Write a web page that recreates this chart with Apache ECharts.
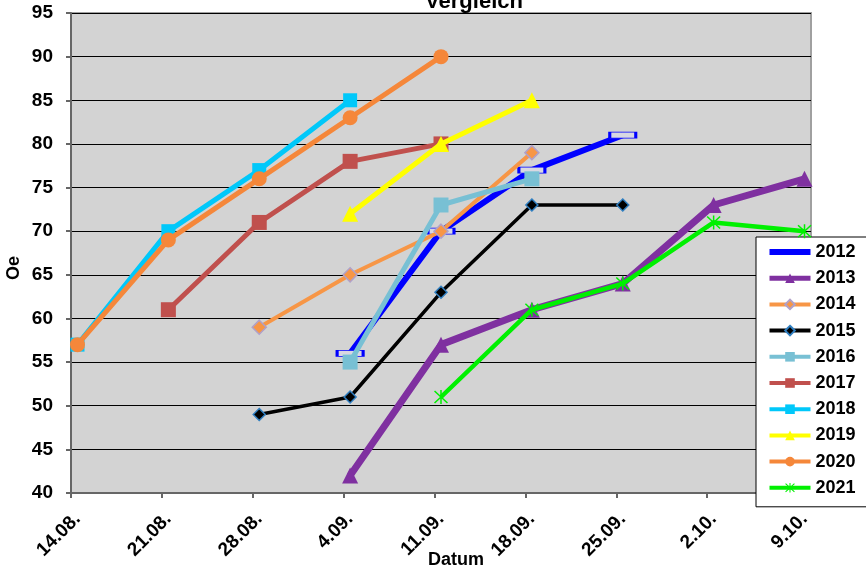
<!DOCTYPE html>
<html>
<head>
<meta charset="utf-8">
<script src="https://cdn.jsdelivr.net/npm/echarts@6/dist/echarts.min.js"></script>
<style>
html, body { margin: 0; padding: 0; background: #ffffff; }
#chart { width: 866px; height: 572px; }
</style>
</head>
<body>
<div id="chart"></div>
<script>
// Weekly reading dates (tick labels), one column per week
const dates = ['14.08.', '21.08.', '28.08.', '4.09.', '11.09.', '18.09.', '25.09.', '2.10.', '9.10.'];

// Oechsle readings per year, aligned to the weekly dates (null = no reading)
const v2012 = [null, null, null, 56, 70, 77, 81, null, null];
const v2013 = [null, null, null, 42, 57, 61, 64, 73, 76];
const v2014 = [null, null, 59, 65, 70, 79, null, null, null];
const v2015 = [null, null, 49, 51, 63, 73, 73, null, null];
const v2016 = [null, null, null, 55, 73, 76, null, null, null];
const v2017 = [null, 61, 71, 78, 80, null, null, null, null];
const v2018 = [57, 70, 77, 85, null, null, null, null, null];
const v2019 = [null, null, null, 72, 80, 85, null, null, null];
const v2020 = [57, 69, 76, 83, 90, null, null, null, null];
const v2021 = [null, null, null, null, 51, 61, 64, 71, 70];

const years = ['2012', '2013', '2014', '2015', '2016', '2017', '2018', '2019', '2020', '2021'];
const values = [v2012, v2013, v2014, v2015, v2016, v2017, v2018, v2019, v2020, v2021];

// x axis counts days from 14.08.; each reading sits in the middle of its day
const DAYS_PER_WEEK = 7;
const AXIS_DAYS = (dates.length - 1) * DAYS_PER_WEEK + 1;
function toPoints(arr) {
  const pts = [];
  arr.forEach((v, i) => { if (v !== null) pts.push([i * DAYS_PER_WEEK + 0.5, v]); });
  return pts;
}

const FONT = 'Arial, "Liberation Sans", sans-serif';
const ASTERISK = 'path://M9,0 L11,0 L11,20 L9,20 Z M0.7,2.1 L2.1,0.7 L19.3,17.9 L17.9,19.3 Z M17.9,0.7 L19.3,2.1 L2.1,19.3 L0.7,17.9 Z';

// Plot box; the date labels sit on a twin box moved half a day to the right
const PLOT = { left: 71, right: 55, top: 13, bottom: 79 };
const PLOT_W = 866 - PLOT.left - PLOT.right;
const HALF_DAY = PLOT_W / AXIS_DAYS / 2;

// Appearance of each year's line and marker
const looks = {
  '2012': { color: '#0000FF', width: 6,   symbol: 'rect',     size: [26, 6], fill: '#D8D8E2', border: '#0000FF', bw: 1.5 },
  '2013': { color: '#7F30A0', width: 7,   symbol: 'triangle', size: 16 },
  '2014': { color: '#F79646', width: 4,   symbol: 'diamond',  size: 14, border: '#B0A0C8', bw: 1.5 },
  '2015': { color: '#000000', width: 3.5, symbol: 'diamond',  size: 12, border: '#2F7EC0', bw: 1.5 },
  '2016': { color: '#78C0D4', width: 5,   symbol: 'rect',     size: 15 },
  '2017': { color: '#C0504D', width: 5,   symbol: 'rect',     size: 15 },
  '2018': { color: '#00C8FA', width: 5,   symbol: 'rect',     size: 14 },
  '2019': { color: '#FFFF00', width: 5,   symbol: 'triangle', size: 16 },
  '2020': { color: '#F5873A', width: 5,   symbol: 'circle',   size: 15 },
  '2021': { color: '#00F000', width: 4.5, symbol: ASTERISK,   size: 14 }
};

const series = years.map((y, k) => {
  const s = looks[y];
  return {
    name: y,
    type: 'line',
    xAxisIndex: 0,
    yAxisIndex: 0,
    data: toPoints(values[k]),
    symbol: s.symbol,
    symbolSize: s.size,
    showAllSymbol: true,
    animation: false,
    z: 2 + k,
    lineStyle: { color: s.color, width: s.width },
    itemStyle: {
      color: s.fill || s.color,
      borderColor: s.border || s.color,
      borderWidth: s.bw || 0,
      opacity: 1
    },
    emphasis: { disabled: true }
  };
});

// Legend entries: 2012 is shown as a plain thick line
const legendData = years.map((y) => {
  if (y === '2012') {
    return {
      name: y,
      icon: 'path://M0,0 L41,0 L41,6 L0,6 Z',
      itemStyle: { color: looks[y].color, borderWidth: 0 }
    };
  }
  if (y === '2013') {
    return { name: y, lineStyle: { width: 5 } };
  }
  return { name: y };
});

const labelStyle = {
  color: '#000000',
  fontFamily: FONT,
  fontWeight: 'bold'
};

const chart = echarts.init(document.getElementById('chart'), null, { renderer: 'canvas' });
chart.setOption({
  backgroundColor: '#ffffff',
  animation: false,
  grid: [
    {
      left: PLOT.left, right: PLOT.right, top: PLOT.top, bottom: PLOT.bottom,
      show: true,
      backgroundColor: '#D3D3D3',
      borderColor: '#A0A0A0',
      borderWidth: 2
    },
    {
      left: PLOT.left + HALF_DAY, right: PLOT.right - HALF_DAY, top: PLOT.top, bottom: PLOT.bottom,
      show: false
    }
  ],
  xAxis: [
    {
      // day axis: line and weekly tick marks
      gridIndex: 0,
      type: 'value',
      min: 0,
      max: AXIS_DAYS,
      interval: DAYS_PER_WEEK,
      axisLine: { show: true, lineStyle: { color: '#666666', width: 2 } },
      axisTick: { show: true, length: 5, lineStyle: { color: '#666666', width: 2 } },
      splitLine: { show: false },
      axisLabel: { show: false }
    },
    {
      // date labels, centred on their day
      gridIndex: 1,
      type: 'value',
      min: 0,
      max: AXIS_DAYS,
      interval: DAYS_PER_WEEK,
      axisLine: { show: false },
      axisTick: { show: false },
      splitLine: { show: false },
      axisLabel: Object.assign({
        rotate: 45,
        margin: 23,
        fontSize: 19,
        showMaxLabel: false,
        formatter: (v) => (v % DAYS_PER_WEEK === 0 ? (dates[v / DAYS_PER_WEEK] || '') : '')
      }, labelStyle)
    }
  ],
  yAxis: [
    {
      gridIndex: 0,
      type: 'value',
      min: 40,
      max: 95,
      interval: 5,
      axisLine: { show: true, lineStyle: { color: '#666666', width: 2 } },
      axisTick: { show: true, length: 5, lineStyle: { color: '#666666', width: 2 } },
      splitLine: { show: true, lineStyle: { color: '#000000', width: 1 } },
      axisLabel: Object.assign({ margin: 18, fontSize: 19 }, labelStyle)
    },
    {
      gridIndex: 1,
      type: 'value',
      min: 40,
      max: 95,
      show: false
    }
  ],
  legend: {
    orient: 'vertical',
    left: 756,
    top: 237,
    padding: [6, 12, 10, 11],
    itemWidth: 41,
    itemHeight: 12,
    itemGap: 8.2,
    selectedMode: false,
    backgroundColor: '#ffffff',
    borderColor: '#000000',
    borderWidth: 1,
    lineStyle: { width: 4 },
    textStyle: { color: '#000000', fontFamily: FONT, fontWeight: 'bold', fontSize: 18, lineHeight: 18 },
    data: legendData
  },
  graphic: [
    {
      type: 'text', x: 474, y: 2, z: 100,
      style: { text: 'Vergleich', fill: '#000000', font: 'bold 22px ' + FONT, align: 'center', verticalAlign: 'middle' }
    },
    {
      type: 'text', x: 456, y: 560, z: 100,
      style: { text: 'Datum', fill: '#000000', font: 'bold 18px ' + FONT, align: 'center', verticalAlign: 'middle' }
    },
    {
      type: 'text', x: 14, y: 268, rotation: Math.PI / 2, z: 100,
      style: { text: 'Oe', fill: '#000000', font: 'bold 18px ' + FONT, align: 'center', verticalAlign: 'middle' }
    }
  ],
  series: series
});
</script>
</body>
</html>
